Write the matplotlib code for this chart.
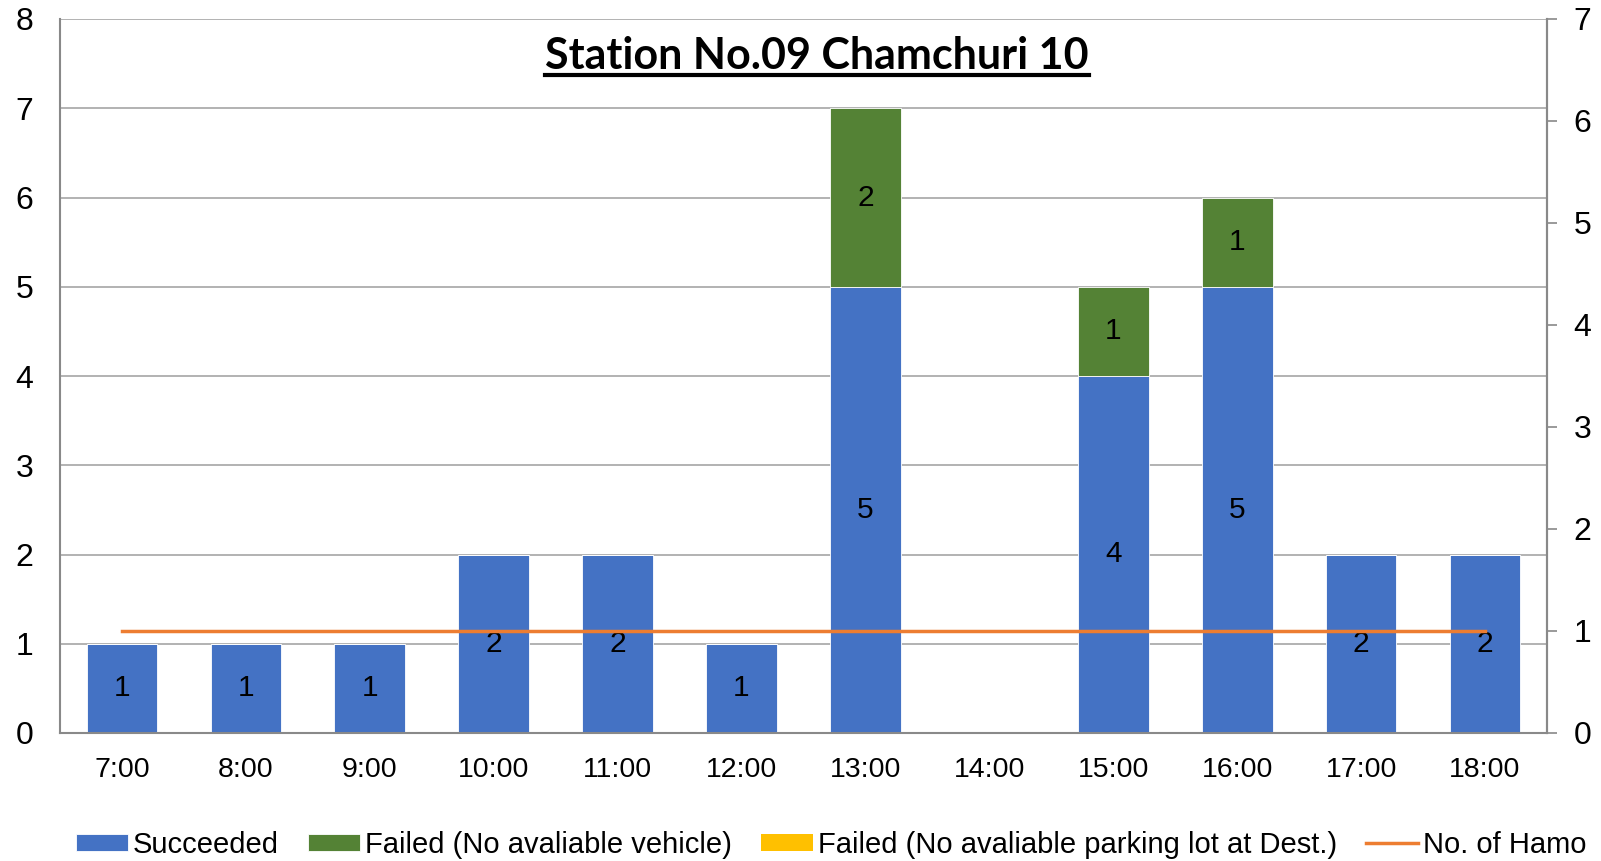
import matplotlib
matplotlib.use("Agg")
import matplotlib.pyplot as plt
from matplotlib.lines import Line2D
import numpy as np

plt.rcParams['font.family'] = ['Liberation Sans', 'DejaVu Sans']

hours = ['7:00', '8:00', '9:00', '10:00', '11:00', '12:00',
         '13:00', '14:00', '15:00', '16:00', '17:00', '18:00']
succeeded = [1, 1, 1, 2, 2, 1, 5, 0, 4, 5, 2, 2]
failed_vehicle = [0, 0, 0, 0, 0, 0, 2, 0, 1, 1, 0, 0]
failed_parking = [0, 0, 0, 0, 0, 0, 0, 0, 0, 0, 0, 0]
hamo = [1, 1, 1, 1, 1, 1, 1, 1, 1, 1, 1, 1]
title = 'Station No.09 Chamchuri 10'

blue = '#4472C4'
green = '#548235'
yellow = '#FFC000'
orange = '#ED7D31'
spine_c = '#898989'
grid_c = '#A6A6A6'

W, H = 1601, 861
fig = plt.figure(figsize=(W / 100, H / 100), dpi=100)
ax = fig.add_axes([60 / W, 1 - 733 / H, (1547 - 60) / W, (733 - 19) / H])

x = np.arange(len(hours))
bw = 0.57
b1 = ax.bar(x, succeeded, bw, color=blue, edgecolor='white', linewidth=0.6, zorder=2,
            label='Succeeded')
b2 = ax.bar(x, failed_vehicle, bw, bottom=succeeded, color=green, edgecolor='white',
            linewidth=0.6, zorder=2, label='Failed (No avaliable vehicle)')
bottom2 = np.array(succeeded) + np.array(failed_vehicle)
b3 = ax.bar(x, failed_parking, bw, bottom=bottom2, color=yellow, zorder=2,
            label='Failed (No avaliable parking lot at Dest.)')

# value labels in the middle of each segment, zeros are left out
for cont, vals in ((b1, succeeded), (b2, failed_vehicle), (b3, failed_parking)):
    ax.bar_label(cont, labels=[str(v) if v else '' for v in vals], label_type='center',
                 fontsize=21.5, color='black', zorder=3)

ax.set_xlim(-0.5, len(hours) - 0.5)
ax.set_ylim(0, 8)
ax.set_yticks(range(0, 9))
ax.set_xticks(x)
ax.set_xticklabels(hours)
ax.yaxis.grid(True, color=grid_c, linewidth=1.2, zorder=0)
ax.set_axisbelow(True)
ax.tick_params(axis='y', length=0, pad=19, labelsize=23)
ax.tick_params(axis='x', length=0, pad=17, labelsize=20.5)
for s in ['left', 'bottom', 'right']:
    ax.spines[s].set_color(spine_c)
    ax.spines[s].set_linewidth(1.5)
ax.spines['top'].set_visible(False)

ax2 = ax.twinx()
ax2.plot(x, hamo, color=orange, linewidth=2.5, label='No. of Hamo', zorder=4)
ax2.set_ylim(0, 7)
ax2.set_yticks(range(0, 8))
ax2.tick_params(axis='y', length=7, width=1.2, color=spine_c, pad=12, labelsize=23)
for s in ['left', 'bottom', 'top']:
    ax2.spines[s].set_visible(False)
ax2.spines['right'].set_color(spine_c)
ax2.spines['right'].set_linewidth(1.5)

t = fig.text(817 / W, 1 - 69 / H, title, ha='center', va='baseline',
             fontsize=31, fontweight='bold', family=['Lato', 'DejaVu Sans'])

handles = [b1, b2, b3, ax2.get_lines()[0]]
labels = [h.get_label() for h in handles]
fig.legend(handles, labels, loc='center', bbox_to_anchor=(831 / W, 1 - 845 / H), ncol=4,
           frameon=False, fontsize=21, handlelength=1.8, handleheight=0.55,
           handletextpad=0.15, columnspacing=1.0, borderaxespad=0)

# underline the title
fig.canvas.draw()
bb = t.get_window_extent()
uy = (H - 75) / H
fig.add_artist(Line2D([bb.x0 / W, bb.x1 / W], [uy, uy], transform=fig.transFigure,
                      color='black', linewidth=3))

fig.savefig('out.png', dpi=100)
